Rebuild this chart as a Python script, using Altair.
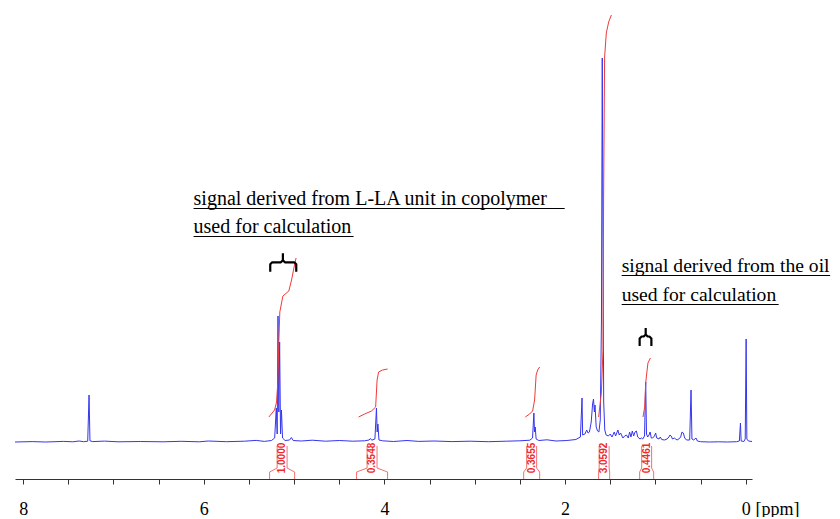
import altair as alt
import pandas as pd

# ---------------- spectrum (ppm, relative intensity) ----------------
ppm = [8.09, 7.90, 7.75, 7.55, 7.45, 7.38, 7.33, 7.285, 7.27, 7.26, 7.23, 7.10, 6.95, 6.70, 6.45,
       6.25, 6.05, 5.95, 5.75, 5.55, 5.42, 5.33, 5.25, 5.215, 5.197, 5.187, 5.178, 5.169, 5.160,
       5.150, 5.140, 5.128, 5.10, 5.05, 5.03, 5.01, 4.92, 4.80, 4.65, 4.50, 4.35, 4.22, 4.17,
       4.155, 4.14, 4.105, 4.088, 4.080, 4.072, 4.06, 4.02, 3.90, 3.75, 3.62, 3.45, 3.25, 3.05,
       2.85, 2.65, 2.50, 2.39, 2.36, 2.345, 2.338, 2.330, 2.32, 2.29, 2.20, 2.10, 1.98, 1.88,
       1.83, 1.812, 1.805, 1.78, 1.76, 1.745, 1.73, 1.71, 1.695, 1.685, 1.675, 1.668, 1.655,
       1.64, 1.625, 1.61, 1.597, 1.588, 1.580, 1.572, 1.56, 1.545, 1.52, 1.50, 1.48, 1.455,
       1.44, 1.415, 1.40, 1.385, 1.36, 1.34, 1.32, 1.30, 1.285, 1.27, 1.255, 1.24, 1.225, 1.21,
       1.195, 1.17, 1.155, 1.14, 1.12, 1.107, 1.098, 1.085, 1.07, 1.058, 1.045, 1.03, 1.01,
       0.997, 0.985, 0.96, 0.945, 0.93, 0.90, 0.87, 0.85, 0.838, 0.825, 0.81, 0.79, 0.775,
       0.76, 0.74, 0.72, 0.705, 0.69, 0.675, 0.655, 0.62, 0.605, 0.595, 0.575, 0.55, 0.535,
       0.50, 0.40, 0.30, 0.20, 0.10, 0.07, 0.058, 0.050, 0.02, 0.005, -0.005, -0.013, -0.03,
       -0.07]
intensity = [0, 0.4, 0, 0.6, 0.2, 1.0, 0.3, 0.8, 47, 1.2, 0.4, 0.9, 0.2, 0.5, 0.2,
             0.7, 0.2, 1.0, 0.3, 0.8, 1.6, 0.6, 1.5, 4, 34, 8, 126, 30, 100,
             8, 32, 4, 1.5, 2, 4.5, 1.5, 1.0, 1.8, 0.8, 1.5, 0.8, 1.2, 2,
             3.5, 1.8, 3, 34, 10, 18, 2, 1.2, 0.5, 1.5, 0.6, 1.0, 0.4, 0.8,
             0.3, 0.8, 1.2, 1.8, 4, 29, 10, 15, 3, 1.5, 2.2, 1.0, 1.5, 2.5,
             5, 44, 7, 8, 12, 9, 10, 20, 38, 43, 30, 37, 15,
             11, 10, 22, 120, 384, 200, 40, 12, 7, 6, 8, 5, 10,
             6, 12, 7, 9, 4, 6, 7, 4, 10, 5, 11, 6, 10, 11,
             5, 3, 4, 3, 6, 60, 8, 5, 7, 10, 4, 4, 6,
             9, 4, 3, 5, 2.5, 2, 3, 5, 7, 6, 3, 4, 3,
             2, 3, 5, 10, 9, 4, 2, 2, 52, 3, 2, 4, 1,
             0.3, 0, 0.2, 0, 0.3, 1, 19, 1, 0.5, 3, 103, 3, 1,
             0.5]

# ---------------- integral curves ----------------
int_ppm = [
    [5.279, 5.216, 5.194, 5.180, 5.169, 5.158, 5.124, 5.058, 5.028, 5.002, 4.978],
    [4.286, 4.219, 4.142, 4.097, 4.081, 4.064, 4.020, 3.965],
    [2.440, 2.392, 2.359, 2.337, 2.320, 2.303, 2.281],
    [1.628, 1.598, 1.580, 1.573, 1.562, 1.543, 1.517, 1.487],
    [1.137, 1.118, 1.107, 1.100, 1.082, 1.055],
]
int_val = [
    [25, 32, 40, 60, 100, 130, 146, 151, 162, 174, 184],
    [25, 28, 31, 35, 62, 70, 72, 73],
    [25, 28, 31, 42, 67, 72, 75],
    [25, 49, 92, 242, 385, 409, 420, 427],
    [25, 35, 59, 65, 79, 84],
]

# integral values and integration limits (ppm)
int_labels = ["1.0000", "0.3548", "0.3655", "3.0592", "0.4461"]
int_from = [5.271, 4.308, 2.458, 1.628, 1.174]
int_to = [4.994, 3.965, 2.281, 1.506, 1.019]

# annotations
ann_lines = ["signal derived from L-LA unit in copolymer", "used for calculation",
             "signal derived from the oil", "used for calculation"]
ann_ppm = [6.113, 6.113, 1.373, 1.373]
ann_level = [237, 209, 170, 141]
ann_group = [0, 0, 1, 1]
ann_underline_end = [2.004, 4.341, -0.935, -0.365]
brace_left = [5.264, 1.174]
brace_mid = [5.124, 1.107]
brace_right = [4.976, 1.044]
brace_top = [188.7, 114]
brace_bar = [179.7, 105.5]
brace_bottom = [170.3, 96]

tick_values = [i * 0.5 for i in range(17)]

# ---------------- build tables ----------------
BLUE = "#3535ee"
RED = "#ee2a2a"

spec_df = pd.DataFrame({"ppm": ppm, "val": intensity, "i": list(range(len(ppm)))})

rows = []
for g, (xs, ys) in enumerate(zip(int_ppm, int_val)):
    for k, (x, y) in enumerate(zip(xs, ys)):
        rows.append({"ppm": x, "val": y, "grp": g, "i": k})
integ_df = pd.DataFrame(rows)

hw = 0.055
box_rows = []
lab_rows = []
for b, (lab, a, z) in enumerate(zip(int_labels, int_from, int_to)):
    c = (a + z) / 2
    for side, (n, f) in enumerate([(c + hw, a), (c - hw, z)]):
        pts = [(n, -4), (n, -26), (f, -30), (f, -37)]
        for k, (x, y) in enumerate(pts):
            box_rows.append({"ppm": x, "val": y, "grp": f"{b}-{side}", "i": k})
    lab_rows.append({"ppm": c, "val": -16, "label": lab})
box_df = pd.DataFrame(box_rows)
lab_df = pd.DataFrame(lab_rows)

ann_df = pd.DataFrame({"ppm": ann_ppm, "val": ann_level, "text": ann_lines, "g": ann_group})
ul_df = pd.DataFrame({"ppm": ann_ppm, "ppm2": ann_underline_end,
                      "val": [v - 3.5 for v in ann_level]})

br_rows = []
dx, dy = 0.022, 2
for b in range(len(brace_mid)):
    L, S, R = brace_left[b], brace_mid[b], brace_right[b]
    t, h, bt = brace_top[b], brace_bar[b], brace_bottom[b]
    left = [(L, bt), (L, h - dy), (L - dx, h), (S + dx, h), (S, h + dy), (S, t)]
    right = [(S, h + dy), (S - dx, h), (R + dx, h), (R, h - dy), (R, bt)]
    for side, pts in enumerate([left, right]):
        for k, (x, y) in enumerate(pts):
            br_rows.append({"ppm": x, "val": y, "grp": f"{b}-{side}", "i": k})
br_df = pd.DataFrame(br_rows)

# ---------------- encodings ----------------
x_scale = alt.Scale(domain=[-0.07, 8.09], reverse=True, nice=False, zero=False)
y_scale = alt.Scale(domain=[-37, 434], nice=False, zero=False)
x_axis = alt.Axis(values=tick_values,
                  labelExpr="datum.value % 2 == 0 ? format(datum.value, 'd') : ''",
                  grid=False, tickSize=5, tickColor="#333333", domainColor="#333333",
                  labelFont="Liberation Serif", labelFontSize=18, labelColor="black",
                  labelBaseline="alphabetic", labelPadding=30, labelFlush=False,
                  title="[ppm]", titleFont="Liberation Serif", titleFontSize=18,
                  titleFontWeight="normal", titleColor="black", titleAlign="left",
                  titleBaseline="alphabetic", titleX=740, titleY=35)


def X():
    return alt.X("ppm:Q", scale=x_scale, axis=x_axis)


def Y():
    return alt.Y("val:Q", scale=y_scale, axis=None)


spectrum = alt.Chart(spec_df).mark_line(color=BLUE, strokeWidth=1).encode(
    x=X(), y=Y(), order="i:Q")

integrals = alt.Chart(integ_df).mark_line(color="#f03a3a", strokeWidth=1).encode(
    x=X(), y=Y(), detail="grp:N", order="i:Q")

boxes = alt.Chart(box_df).mark_line(color="#f06060", strokeWidth=0.9).encode(
    x=X(), y=Y(), detail="grp:N", order="i:Q")

box_text = alt.Chart(lab_df).mark_text(angle=270, font="Liberation Sans", fontSize=10,
                                       fontWeight="bold", color=RED, align="center",
                                       baseline="middle").encode(
    x=X(), y=Y(), text="label:N")

ann1 = alt.Chart(ann_df).transform_filter("datum.g == 0").mark_text(
    font="Liberation Serif", fontSize=20, color="black", align="left",
    baseline="alphabetic").encode(x=X(), y=Y(), text="text:N")

ann2 = alt.Chart(ann_df).transform_filter("datum.g == 1").mark_text(
    font="Liberation Serif", fontSize=19.6, color="black", align="left",
    baseline="alphabetic").encode(x=X(), y=Y(), text="text:N")

underline = alt.Chart(ul_df).mark_rule(color="black", strokeWidth=1.1).encode(
    x=X(), x2="ppm2:Q", y=Y())

braces = alt.Chart(br_df).mark_line(color="black", strokeWidth=2.2, strokeJoin="round",
                                    strokeCap="butt").encode(
    x=X(), y=Y(), detail="grp:N", order="i:Q")

chart = alt.layer(spectrum, integrals, boxes, box_text, ann1, ann2, underline, braces).properties(
    width=737, height=471,
    autosize=alt.AutoSizeParams(type="none"),
    padding={"left": 7, "top": 0, "right": 80, "bottom": 38},
).configure(background="white", view=alt.ViewConfig(stroke=None))

chart.save("out.html", embed_options={"renderer": "svg", "actions": False})
